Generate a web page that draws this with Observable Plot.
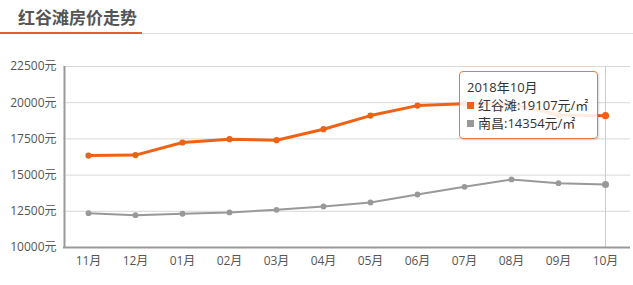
<!DOCTYPE html>
<html><head><meta charset="utf-8">
<script src="https://cdn.jsdelivr.net/npm/d3@7"></script>
<script src="https://cdn.jsdelivr.net/npm/@observablehq/plot@0.6"></script>
<style>
body{margin:0;background:#fff;font-family:"Open Sans","Noto Sans CJK SC",sans-serif;}
#wrap{position:relative;width:633px;height:285px;overflow:hidden;}
#title{height:33px;position:relative;border-bottom:1px solid #ddd;}
#title span{position:absolute;left:18px;top:4px;font-size:17px;font-weight:bold;color:#555;font-family:"Noto Sans CJK SC",sans-serif;}
#title i{position:absolute;left:0;bottom:-1px;width:142px;height:2px;background:#e0622a;}
#tip{position:absolute;border:1px solid #e87a3c;border-radius:4px;background:rgba(255,255,255,0.88);font-size:13px;color:#333;padding:6px 9px 6px 7px;line-height:18px;box-shadow:1px 1px 2px rgba(0,0,0,0.15);font-family:"Open Sans","Noto Sans CJK SC",sans-serif;white-space:nowrap;}
#tip b{display:inline-block;width:7px;height:7px;margin-right:4px;vertical-align:1px;}
</style></head>
<body><div id="wrap"><div id="title"><span>红谷滩房价走势</span><i></i></div><div id="chart"></div></div>
<script>
const months = ["11月","12月","01月","02月","03月","04月","05月","06月","07月","08月","09月","10月"];
const hongGuTan = [16350,16380,17250,17480,17410,18170,19110,19800,19920,19900,19150,19107];
const nanChang = [12370,12230,12330,12420,12600,12830,13110,13660,14190,14700,14440,14354];
const yTicks = [10000,12500,15000,17500,20000,22500];
const tipTitle = "2018年10月";
const seriesNames = ["红谷滩","南昌"];
const orange = "#ee6213", gray = "#999999";

const rowsA = months.map((m,i)=>({m, v:hongGuTan[i], last:i===months.length-1}));
const rowsB = months.map((m,i)=>({m, v:nanChang[i], last:i===months.length-1}));
const lastMonth = months[months.length-1];

const chart = Plot.plot({
  width:633, height:250,
  marginTop:32, marginBottom:37, marginLeft:63, marginRight:3,
  style:{fontFamily:'"Open Sans","Noto Sans CJK SC",sans-serif', fontSize:"12px", color:"#555", background:"transparent"},
  x:{type:"point", domain:months, padding:0.5, label:null, tickSize:0, tickPadding:9},
  y:{domain:[10000,22500], ticks:yTicks, tickFormat:d=>d+"元", label:null, tickSize:0, tickPadding:7},
  marks:[
    Plot.gridY(yTicks, {stroke:"#d8d8d8", strokeOpacity:1}),
    Plot.ruleX([lastMonth], {stroke:"#ccc", y1:10000, y2:22500}),
    Plot.ruleX([months[0]], {stroke:"#999", strokeWidth:2, y1:10000, y2:22500, dx:-24}),
    Plot.ruleY([10000], {stroke:"#999", strokeWidth:2}),
    Plot.line(rowsB, {x:"m", y:"v", stroke:gray, strokeWidth:2}),
    Plot.dot(rowsB, {x:"m", y:"v", fill:gray, r:d=>d.last?6:4}),
    Plot.line(rowsA, {x:"m", y:"v", stroke:orange, strokeWidth:3}),
    Plot.dot(rowsA, {x:"m", y:"v", fill:orange, r:d=>d.last?6:4.5})
  ]
});
document.getElementById("chart").appendChild(chart);

// tooltip positioned from the chart's scales
const xs = chart.scale("x"), ys = chart.scale("y");
const tip = document.createElement("div");
tip.id = "tip";
const lv = hongGuTan.length-1;
tip.innerHTML = `${tipTitle}<br><b style="background:${orange}"></b>${seriesNames[0]}:${hongGuTan[lv]}元/㎡<br><b style="background:${gray}"></b>${seriesNames[1]}:${nanChang[lv]}元/㎡`;
document.getElementById("wrap").appendChild(tip);
tip.style.left = (xs.apply(lastMonth) - 146) + "px";
tip.style.top = (34 + ys.apply(22150)) + "px";
</script>
</body></html>
